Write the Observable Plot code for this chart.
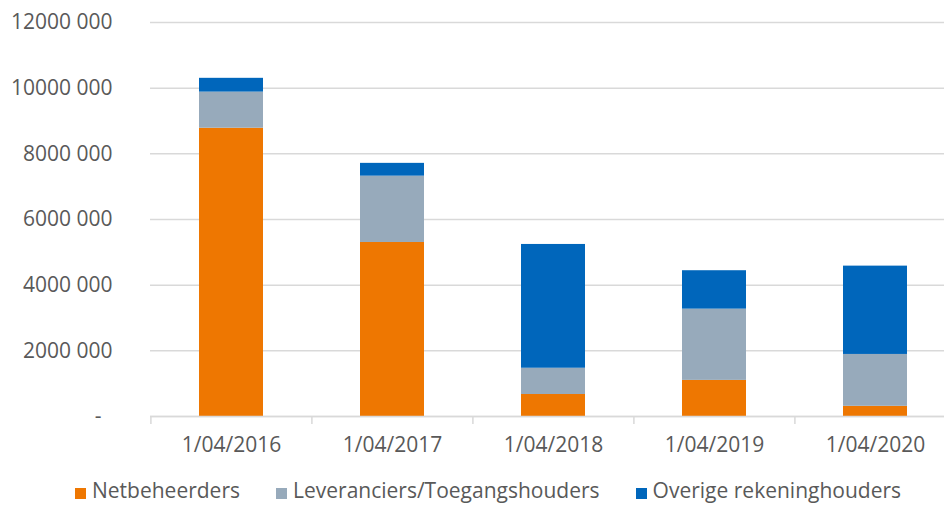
<!DOCTYPE html>
<html>
<head>
<meta charset="utf-8">
<script src="https://cdn.jsdelivr.net/npm/d3@7"></script>
<script src="https://cdn.jsdelivr.net/npm/@observablehq/plot@0.6"></script>
<style>
  html, body { margin: 0; padding: 0; background: #fff; overflow: hidden; }
  #wrap { position: relative; width: 944px; height: 505px; overflow: hidden; font-family: "Open Sans", sans-serif; }
  #chart svg { max-width: none !important; }
  #legend { position: absolute; top: 476px; left: 75px; display: flex; gap: 36px; font-size: 21px; line-height: 28px; color: #595959; white-space: nowrap; }
  .item { display: flex; align-items: center; }
  .sw { width: 11px; height: 11px; margin-right: 6px; margin-top: 6px; }
</style>
</head>
<body>
<div id="wrap"><div id="chart"></div><div id="legend"></div></div>
<script>
const dates = ["1/04/2016", "1/04/2017", "1/04/2018", "1/04/2019", "1/04/2020"];
const seriesNames = ["Netbeheerders", "Leveranciers/Toegangshouders", "Overige rekeninghouders"];
const netbeheerders = [8780000, 5300000, 670000, 1100000, 310000];
const leveranciers = [1100000, 2020000, 800000, 2170000, 1580000];
const overige = [420000, 390000, 3770000, 1170000, 2690000];
const seriesColors = ["#EE7701", "#97AABB", "#0066BB"];
const yTicks = [0, 2000000, 4000000, 6000000, 8000000, 10000000, 12000000];
const yTickLabels = ["-\u00a0\u00a0", "2000 000", "4000 000", "6000 000", "8000 000", "10000 000", "12000 000"];

const seriesValues = [netbeheerders, leveranciers, overige];
const data = [];
seriesNames.forEach((s, si) => dates.forEach((d, i) => data.push({date: d, series: s, value: seriesValues[si][i]})));

const W = 956, H = 470, ML = 150, MR = 0;
const step = (W - ML - MR) / dates.length;

const chart = Plot.plot({
  width: W,
  height: H,
  marginLeft: ML,
  marginRight: MR,
  marginTop: 22,
  marginBottom: 54,
  style: {fontFamily: "'Open Sans', sans-serif", fontSize: "21px", color: "#595959", background: "white", maxWidth: "none"},
  x: {domain: dates, paddingInner: 0.6, paddingOuter: 0.3, label: null},
  y: {domain: [0, 12000000], label: null},
  color: {domain: seriesNames, range: seriesColors},
  marks: [
    Plot.gridY(yTicks, {stroke: "#d9d9d9", strokeOpacity: 1, strokeWidth: 1.5}),
    Plot.barY(data, {x: "date", y: "value", fill: "series", order: seriesNames}),
    Plot.ruleY([0], {stroke: "#d9d9d9", strokeWidth: 1.5}),
    Plot.axisY({ticks: yTicks, tickSize: 0, tickPadding: 38, tickFormat: (d) => yTickLabels[yTicks.indexOf(d)], fill: "#595959"}),
    Plot.axisX({tickSize: 0, tickPadding: 21, fill: "#595959"}),
    Plot.axisX({tickSize: 8, text: null, stroke: "#d9d9d9", strokeWidth: 1.5, dx: -step / 2}),
    Plot.axisX([dates[dates.length - 1]], {tickSize: 8, text: null, stroke: "#d9d9d9", strokeWidth: 1.5, dx: step / 2})
  ]
});
document.getElementById("chart").appendChild(chart);

const legend = document.getElementById("legend");
seriesNames.forEach((s, i) => {
  const it = document.createElement("div");
  it.className = "item";
  const sw = document.createElement("span");
  sw.className = "sw";
  sw.style.background = seriesColors[i];
  const tx = document.createElement("span");
  tx.textContent = s;
  it.appendChild(sw); it.appendChild(tx);
  legend.appendChild(it);
});
</script>
</body>
</html>
